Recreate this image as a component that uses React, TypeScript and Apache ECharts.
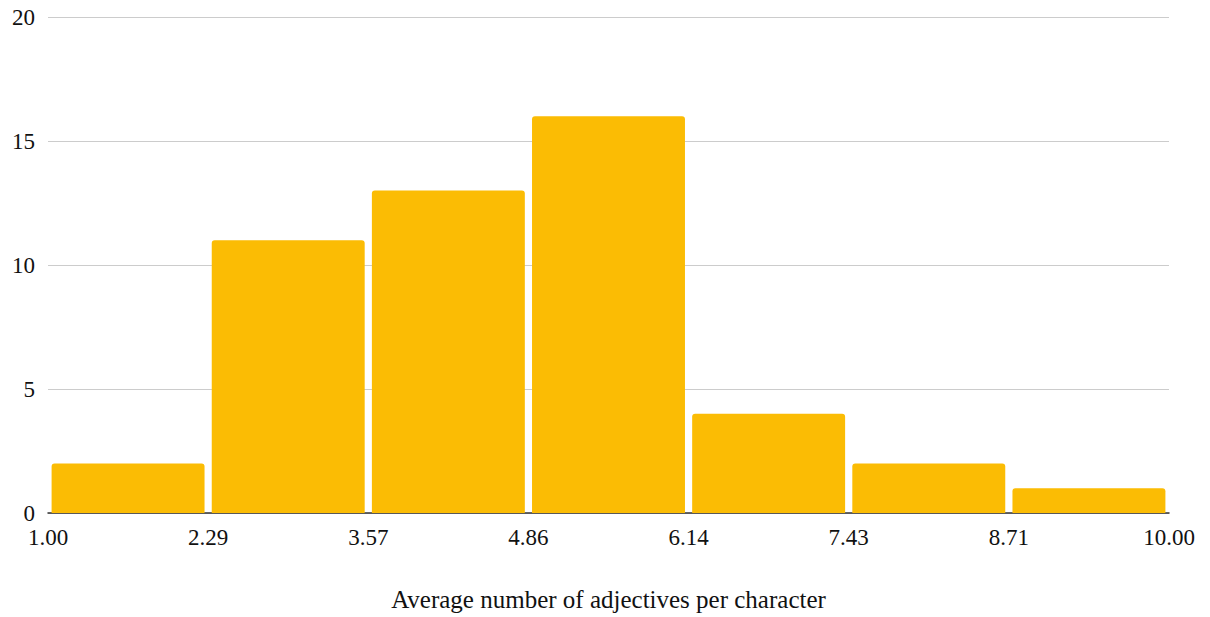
import React, { useEffect, useRef } from "react";
import * as echarts from "echarts";

// Bin edges of the histogram and the count in each bin
const binEdges = ["1.00", "2.29", "3.57", "4.86", "6.14", "7.43", "8.71", "10.00"];
const binCounts = [2, 11, 13, 16, 4, 2, 1];
const yTicks = [0, 5, 10, 15, 20];
const xTitle = "Average number of adjectives per character";

const FONT = "'Liberation Serif', 'Times New Roman', serif";
const BAR_COLOR = "#FBBC04";

export default function App() {
  const ref = useRef<HTMLDivElement>(null);

  useEffect(() => {
    if (!ref.current) return;
    const chart = echarts.init(ref.current, null, { renderer: "svg" });

    const data = binCounts.map((c, i) => [i, i + 1, c]);

    chart.setOption({
      animation: false,
      backgroundColor: "#ffffff",
      grid: { left: 48, right: 41, top: 17, bottom: 93 },
      xAxis: {
        type: "value",
        min: 0,
        max: binEdges.length - 1,
        interval: 1,
        name: xTitle,
        nameLocation: "middle",
        nameGap: 74,
        nameTextStyle: { fontFamily: FONT, fontSize: 25, color: "#111" },
        axisLine: { show: true, lineStyle: { color: "#333", width: 1.5 } },
        axisTick: { show: false },
        splitLine: { show: false },
        axisLabel: {
          fontFamily: FONT,
          fontSize: 23,
          color: "#111",
          margin: 13,
          formatter: (v: number) => binEdges[Math.round(v)] ?? "",
        },
      },
      yAxis: {
        type: "value",
        min: yTicks[0],
        max: yTicks[yTicks.length - 1],
        interval: yTicks[1] - yTicks[0],
        axisLine: { show: false },
        axisTick: { show: false },
        splitLine: { show: true, lineStyle: { color: "#cccccc", width: 1 } },
        axisLabel: { fontFamily: FONT, fontSize: 23, color: "#111", margin: 13 },
      },
      series: [
        {
          type: "custom",
          data,
          encode: { x: [0, 1], y: 2 },
          renderItem: (params: any, api: any) => {
            const x0 = api.value(0);
            const x1 = api.value(1);
            const y = api.value(2);
            const p0 = api.coord([x0, y]);
            const p1 = api.coord([x1, 0]);
            const inset = 3.6;
            return {
              type: "rect",
              shape: {
                x: p0[0] + inset,
                y: p0[1],
                width: p1[0] - p0[0] - inset * 2,
                height: p1[1] - p0[1],
                r: [3, 3, 0, 0],
              },
              style: { fill: BAR_COLOR },
            };
          },
          z: 1,
        },
      ],
    });

    return () => chart.dispose();
  }, []);

  return (
    <div
      ref={ref}
      style={{ position: "fixed", left: 0, top: 0, width: 1210, height: 617 }}
    />
  );
}
